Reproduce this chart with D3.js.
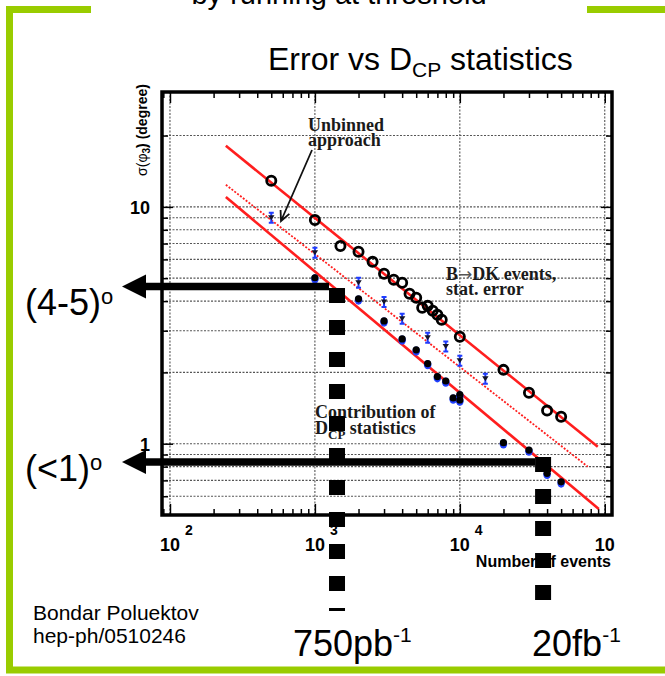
<!DOCTYPE html>
<html>
<head>
<meta charset="utf-8">
<script src="https://cdn.jsdelivr.net/npm/d3@7"></script>
<style>
  html, body { margin: 0; padding: 0; background: #fff; }
  svg { display: block; }
</style>
</head>
<body>
<svg id="chart" width="665" height="676"></svg>
<script>
// phi3 statistical error versus number of B->DK events (log-log)

// axis ranges and tick labels
const xDomain = [Math.pow(10, 1.945), Math.pow(10, 5.05)];
const yDomain = [0.5, Math.pow(10, 1.485)];
const xMajorTicks = [100, 1000, 10000, 100000];
const xTickExponents = ["2", "3", "4", "5"];
const yMajorTicks = [1, 10];
const yTickLabels = ["1", "10"];
const yGridValues = [0.6, 0.7, 0.8, 0.9, 1, 2, 3, 4, 5, 6, 7, 8, 9, 10, 20];

// binned fit (open circles)
const binnedN = [500, 1000, 1500, 2000, 2500, 3000, 3500, 4000, 4500, 5000, 5500, 6000, 6500, 7000, 7500, 10000, 20000, 30000, 40000, 50000];
const binnedSigma = [12.9, 8.8, 6.84, 6.46, 5.86, 5.22, 4.92, 4.78, 4.30, 4.13, 3.75, 3.82, 3.64, 3.50, 3.34, 2.83, 2.05, 1.64, 1.38, 1.30];

// unbinned fit (triangles with error bars)
const unbinnedN = [500, 1000, 2000, 3000, 4000, 6000, 8000, 10000, 15000];
const unbinnedSigma = [9.0, 6.40, 4.78, 3.97, 3.37, 2.80, 2.57, 2.24, 1.88];

// unbinned fit with unlimited D_CP statistics (filled dots)
const idealN = [1000, 2000, 3000, 4000, 5000, 6000, 7000, 8000, 9000, 10000, 10000, 20000, 30000, 40000, 50000];
const idealSigma = [5.02, 4.09, 3.30, 2.77, 2.49, 2.18, 1.92, 1.84, 1.56, 1.61, 1.53, 1.01, 0.94, 0.75, 0.69];

// 1/sqrt(N) reference lines: start and end points
const fitNames = ["binned", "unbinned", "ideal"];
const fitN0 = [243, 243, 243];
const fitN1 = [89500, 76400, 91000];
const fitSigma0 = [18.1, 12.4, 11.0];
const fitSigma1 = [0.97, 0.80, 0.53];

// luminosity markers: events and resulting error
const lumiLabels = ["750pb", "20fb"];
const lumiN = [1421, 37540];
const lumiSigma = [4.61, 0.837];
const errLabels = ["(4-5)", "(<1)"];

const svg = d3.select("#chart");
const X0 = 162, X1 = 612, Y0 = 515, Y1 = 92;
const x = d3.scaleLog().domain(xDomain).range([X0, X1]);
const y = d3.scaleLog().domain(yDomain).range([Y0, Y1]);

const SANS = "'Liberation Sans', Arial, Helvetica, sans-serif";
const SERIF = "'Liberation Serif', 'Times New Roman', serif";
const GREEN = "#99cc00";

// slide frame
const frame = svg.append("g").attr("stroke", GREEN).attr("stroke-width", 7).attr("fill", "none");
frame.append("line").attr("x1", 6).attr("x2", 91).attr("y1", 9.5).attr("y2", 9.5);
frame.append("line").attr("x1", 587).attr("x2", 665).attr("y1", 9.5).attr("y2", 9.5);
frame.append("line").attr("x1", 9.5).attr("x2", 9.5).attr("y1", 6).attr("y2", 673);
frame.append("line").attr("x1", 6).attr("x2", 665).attr("y1", 670).attr("y2", 670);

svg.append("text").attr("x", 339).attr("y", 4).attr("text-anchor", "middle")
  .attr("font-family", SANS).attr("font-size", 29).text("by running at threshold");

// title
const title = svg.append("text").attr("x", 268).attr("y", 70)
  .attr("font-family", SANS).attr("font-size", 32);
title.append("tspan").text("Error vs D");
title.append("tspan").attr("font-size", 21).attr("dy", 7).text("CP");
title.append("tspan").attr("dy", -7).text(" statistics");

// plot picture, clipped at its right edge
svg.append("defs").append("clipPath").attr("id", "plotClip")
  .append("rect").attr("x", 100).attr("y", 80).attr("width", 518).attr("height", 500);
const plot = svg.append("g").attr("clip-path", "url(#plotClip)");

// grid
const grid = plot.append("g").attr("stroke", "#555").attr("stroke-width", 1.1).attr("stroke-dasharray", "2,1.5");
grid.selectAll("line.h").data(yGridValues).join("line").attr("class", "h")
  .attr("x1", X0).attr("x2", X1).attr("y1", d => y(d)).attr("y2", d => y(d));
grid.selectAll("line.v").data(xMajorTicks).join("line").attr("class", "v")
  .attr("x1", d => x(d)).attr("x2", d => x(d)).attr("y1", Y1).attr("y2", Y0);

// ticks
const xMinor = [];
for (let e = 1; e <= 5; e++) for (let m = 2; m <= 9; m++) {
  const v = m * Math.pow(10, e);
  if (v > xDomain[0] && v < xDomain[1]) xMinor.push(v);
}
const yMinor = yGridValues.filter(v => yMajorTicks.indexOf(v) < 0);
function tickAxis(axis, values, size, tr) {
  const g = plot.append("g").attr("transform", tr)
    .call(axis.tickValues(values).tickSize(size).tickFormat(""));
  g.select(".domain").remove();
  g.selectAll(".tick line").attr("stroke", "#000").attr("stroke-width", 1.5);
}
tickAxis(d3.axisBottom(x), xMajorTicks.filter(v => v < xDomain[1]), -11, `translate(0,${Y0})`);
tickAxis(d3.axisBottom(x), xMinor, -6, `translate(0,${Y0})`);
tickAxis(d3.axisTop(x), xMajorTicks.filter(v => v < xDomain[1]), -11, `translate(0,${Y1})`);
tickAxis(d3.axisTop(x), xMinor, -6, `translate(0,${Y1})`);
tickAxis(d3.axisLeft(y), yMajorTicks, -11, `translate(${X0},0)`);
tickAxis(d3.axisLeft(y), yMinor, -6, `translate(${X0},0)`);
tickAxis(d3.axisRight(y), yMajorTicks, -11, `translate(${X1},0)`);
tickAxis(d3.axisRight(y), yMinor, -6, `translate(${X1},0)`);

// frame of the plot
plot.append("rect").attr("x", X0).attr("y", Y1).attr("width", X1 - X0).attr("height", Y0 - Y1)
  .attr("fill", "none").attr("stroke", "#000").attr("stroke-width", 3.5);

// tick labels
yMajorTicks.forEach((v, i) => {
  plot.append("text").attr("x", 150).attr("y", y(v) + 7).attr("text-anchor", "end")
    .attr("font-family", SANS).attr("font-weight", "bold").attr("font-size", 18).text(yTickLabels[i]);
});
xMajorTicks.forEach((v, i) => {
  const t = plot.append("text").attr("x", x(v) - 10).attr("y", 551)
    .attr("font-family", SANS).attr("font-weight", "bold").attr("font-size", 18);
  t.append("tspan").text("10");
  t.append("tspan").attr("x", x(v) + 15).attr("y", 535).attr("font-size", 14).text(xTickExponents[i]);
});

// axis titles
plot.append("text").attr("x", 611).attr("y", 567).attr("text-anchor", "end")
  .attr("font-family", SANS).attr("font-weight", "bold").attr("font-size", 16).text("Number of events");
const yt = plot.append("text").attr("transform", "translate(147,130) rotate(-90)").attr("text-anchor", "middle")
  .attr("font-family", SANS).attr("font-weight", "bold").attr("font-size", 14);
yt.append("tspan").attr("font-weight", "normal").text("\u03c3(\u03c6");
yt.append("tspan").attr("font-size", 10).attr("dy", 3).text("3");
yt.append("tspan").attr("dy", -3).text(") (degree)");

// reference lines
const fitStyle = [
  { dash: null, width: 2.6 },
  { dash: "2,1.6", width: 1.8 },
  { dash: null, width: 2.6 }
];
fitNames.forEach((n, i) => {
  plot.append("line").attr("class", "fit-" + n)
    .attr("x1", x(fitN0[i])).attr("y1", y(fitSigma0[i]))
    .attr("x2", x(fitN1[i])).attr("y2", y(fitSigma1[i]))
    .attr("stroke", "#ff1e1e").attr("stroke-width", fitStyle[i].width)
    .attr("stroke-dasharray", fitStyle[i].dash);
});

// unbinned points
const ub = plot.append("g");
unbinnedN.forEach((n, i) => {
  const cx = x(n), cy = y(unbinnedSigma[i]);
  ub.append("path").attr("d", `M${cx},${cy - 5}V${cy + 5}M${cx - 2.5},${cy - 5}H${cx + 2.5}M${cx - 2.5},${cy + 5}H${cx + 2.5}`)
    .attr("stroke", "#1f3cff").attr("stroke-width", 2).attr("fill", "none");
  ub.append("path").attr("d", `M${cx - 3.2},${cy - 2.5}L${cx + 3.2},${cy - 2.5}L${cx},${cy + 2.5}Z`)
    .attr("fill", "#141428");
});

// points with unlimited D_CP statistics
const id = plot.append("g");
idealN.forEach((n, i) => {
  const cx = x(n), cy = y(idealSigma[i]);
  id.append("ellipse").attr("cx", cx).attr("cy", cy + 1.2).attr("rx", 3.8).attr("ry", 4.6).attr("fill", "#2040ff");
  id.append("circle").attr("cx", cx).attr("cy", cy).attr("r", 3.6).attr("fill", "#000");
});

// binned points
plot.append("g").selectAll("circle").data(binnedN).join("circle")
  .attr("cx", d => x(d)).attr("cy", (d, i) => y(binnedSigma[i])).attr("r", 4.6)
  .attr("fill", "none").attr("stroke", "#000").attr("stroke-width", 2.8);

// in-plot notes
function serifText(px, py, parts) {
  const t = plot.append("text").attr("x", px).attr("y", py)
    .attr("font-family", SERIF).attr("font-weight", "bold").attr("font-size", 18).attr("fill", "#1a1a1a");
  parts.forEach(p => {
    const s = t.append("tspan").text(p.t);
    if (p.fs) s.attr("font-size", p.fs);
    if (p.dy) s.attr("dy", p.dy);
    if (p.fw) s.attr("font-weight", p.fw);
    if (p.fill) s.attr("fill", p.fill);
    if (p.ff) s.attr("font-family", p.ff);
  });
}
serifText(308, 131, [{ t: "Unbinned" }]);
serifText(308, 146, [{ t: "approach" }]);
serifText(446, 280, [{ t: "B" }, { t: "\u2192", fw: "normal", fill: "#555", ff: "'DejaVu Sans', sans-serif", fs: 17 }, { t: "DK events," }]);
serifText(446, 295, [{ t: "stat. error" }]);
serifText(315, 418, [{ t: "Contribution of" }]);
serifText(315, 434, [{ t: "D" }, { t: "CP", fs: 13, dy: 5 }, { t: " statistics", dy: -5 }]);

// pointer to the unbinned curve
const ax0 = 312, ay0 = 150, ax1 = 281, ay1 = 221;
const ang = Math.atan2(ay1 - ay0, ax1 - ax0);
const hl = 11, ha = 0.45;
plot.append("path")
  .attr("d", `M${ax0},${ay0}L${ax1},${ay1}` +
    `M${ax1 - hl * Math.cos(ang - ha)},${ay1 - hl * Math.sin(ang - ha)}L${ax1},${ay1}` +
    `L${ax1 - hl * Math.cos(ang + ha)},${ay1 - hl * Math.sin(ang + ha)}`)
  .attr("stroke", "#111").attr("stroke-width", 1.8).attr("fill", "none");

// luminosity columns and error arrows
const colTop = [y(lumiSigma[0]) + 1.5, y(lumiSigma[1]) - 5];
const colBottom = [611, 603];
const lumiLabelShift = [-44, -11];
lumiN.forEach((n, i) => {
  const cx = x(n), ay = y(lumiSigma[i]);
  svg.append("line").attr("x1", cx).attr("x2", cx).attr("y1", colTop[i]).attr("y2", colBottom[i])
    .attr("stroke", "#000").attr("stroke-width", 16).attr("stroke-dasharray", "15,17");
  svg.append("line").attr("x1", cx - 8).attr("x2", 143).attr("y1", ay).attr("y2", ay)
    .attr("stroke", "#000").attr("stroke-width", 7.5);
  svg.append("path").attr("d", `M122,${ay}L146,${ay - 12}L146,${ay + 12}Z`).attr("fill", "#000");

  const lab = svg.append("text").attr("x", 25).attr("y", ay + (i === 0 ? 28 : 19))
    .attr("font-family", SANS).attr("font-size", 36);
  lab.append("tspan").text(errLabels[i]);
  lab.append("tspan").attr("font-size", 22).attr("dy", -11).text("o");

  const ll = svg.append("text").attr("x", cx + lumiLabelShift[i]).attr("y", 656)
    .attr("font-family", SANS).attr("font-size", 36);
  ll.append("tspan").text(lumiLabels[i]);
  ll.append("tspan").attr("font-size", 21).attr("dy", -14).text("-1");
});

// reference
svg.append("text").attr("x", 33).attr("y", 620).attr("font-family", SANS).attr("font-size", 21).text("Bondar Poluektov");
svg.append("text").attr("x", 33).attr("y", 643).attr("font-family", SANS).attr("font-size", 21).text("hep-ph/0510246");
</script>
</body>
</html>
